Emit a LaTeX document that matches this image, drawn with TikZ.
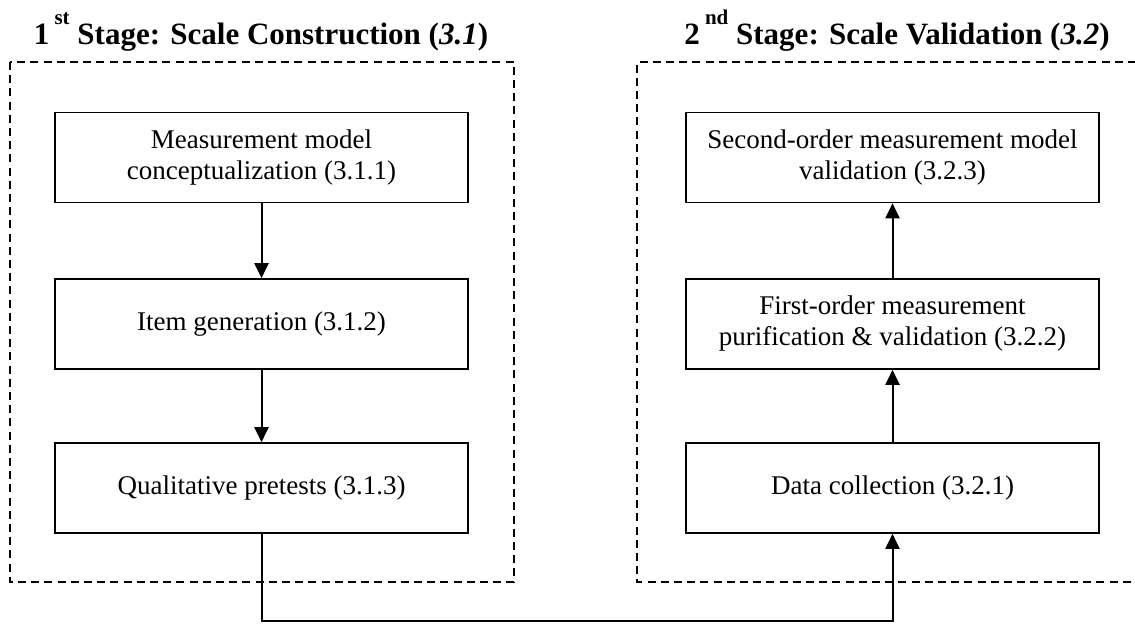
\documentclass[tikz,border=0pt]{standalone}
\usepackage{fontspec}
\setmainfont{Liberation Serif}
\usetikzlibrary{arrows.meta}

\newcommand{\ordsup}[1]{\,\raisebox{0.65em}{\bfseries\fontsize{10.5}{10.5}\selectfont #1}}

\begin{document}
\begin{tikzpicture}[
    x=0.5pt, y=-0.5pt,
    stepbox/.style={draw, line width=0.8pt, align=center,
      minimum width=206.5pt, minimum height=45pt, inner sep=2pt,
      font=\fontsize{13.5}{15.5}\selectfont},
    frame/.style={line width=1.4pt, dash pattern=on 4pt off 2.6pt},
    flow/.style={line width=1pt, -{Triangle[length=7.5pt,width=7pt]}},
    stagetitle/.style={font=\bfseries\fontsize{15.5}{18}\selectfont,
      anchor=base, inner sep=0pt}
  ]
  \useasboundingbox (0,0) rectangle (1135,624);
  % stage titles
  \node [stagetitle] at (261,45) (title1)
    {1\ordsup{st} Stage: Scale Construction (\textit{3.1})};
  \node [stagetitle] at (897,45) (title2)
    {2\ordsup{nd} Stage: Scale Validation (\textit{3.2})};
  % frames
  \draw [frame]
    (10,62) rectangle (514,582)
  ;
  \draw [frame]
    (1136,62)
    -- (637,62)
    -- (637,582)
    -- (1136,582)
  ;
  % construction steps
  \node [stepbox] at (261.5,157.5) (concept)
    {Measurement model\\conceptualization (3.1.1)};
  \node [stepbox] at (261.5,324) (items)
    {Item generation (3.1.2)};
  \node [stepbox] at (261.5,488) (pretests)
    {Qualitative pretests (3.1.3)};
  % validation steps
  \node [stepbox] at (892.5,157.5) (secondorder)
    {Second-order measurement model\\validation (3.2.3)};
  \node [stepbox] at (892.5,324) (firstorder)
    {First-order measurement\\purification \& validation (3.2.2)};
  \node [stepbox] at (892.5,488) (datacoll)
    {Data collection (3.2.1)};
  % arrows
  \draw [flow] (concept) -- (items);
  \draw [flow] (items) -- (pretests);
  \draw [flow] (datacoll) -- (firstorder);
  \draw [flow] (firstorder) -- (secondorder);
  % link between stages
  \draw [flow]
    (pretests.south)
    -- ++(0,87)
    -| (datacoll.south)
  ;
\end{tikzpicture}
\end{document}
